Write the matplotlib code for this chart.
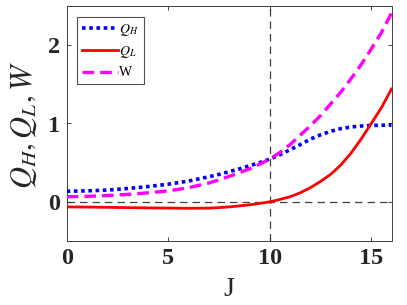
import matplotlib
matplotlib.use("Agg")
import matplotlib.pyplot as plt

J = [0, 1, 2, 3, 4, 5, 6, 7, 7.5, 8, 8.5, 9, 9.5, 10,
     10.5, 11, 11.5, 12, 12.5, 13, 13.5, 14, 14.5, 15, 15.5, 16]
Q_H = [0.135, 0.14, 0.15, 0.17, 0.195, 0.225, 0.265, 0.32, 0.35, 0.385, 0.42, 0.46, 0.5, 0.545,
       0.6, 0.665, 0.73, 0.8, 0.855, 0.9, 0.935, 0.955, 0.968, 0.975, 0.978, 0.98]
Q_L = [-0.065, -0.067, -0.07, -0.074, -0.077, -0.08, -0.082, -0.08, -0.074, -0.065, -0.052,
       -0.038, -0.02, 0.0,
       0.03, 0.065, 0.115, 0.18, 0.26, 0.35, 0.47, 0.62, 0.8, 1.0, 1.2, 1.44]
W = [0.065, 0.07, 0.08, 0.095, 0.115, 0.14, 0.18, 0.24, 0.28, 0.325, 0.37, 0.42, 0.48, 0.545,
     0.63, 0.73, 0.85, 0.97, 1.1, 1.25, 1.4, 1.57, 1.75, 1.95, 2.16, 2.41]
xticks = [0, 5, 10, 15]
yticks = [0, 1, 2]

plt.rcParams['mathtext.fontset'] = 'stix'
plt.rcParams['font.family'] = ['Liberation Serif', 'DejaVu Serif']

fig = plt.figure(figsize=(4.07, 3.05), dpi=100)
ax = fig.add_axes([66.7/407, 1 - 241/305, (391.5 - 66.7)/407, (241 - 6)/305])

ax.axvline(10, color='#404040', ls=(0, (6, 4)), lw=0.9, zorder=1)
ax.axhline(0, color='#404040', ls=(0, (6, 4)), lw=0.9, zorder=1)

ax.plot(J, Q_H, color='#0000ff', ls=(0, (1, 1)), lw=2.6, label=r'$Q_H$', zorder=3)
ax.plot(J, Q_L, color='#ff0000', ls='-', lw=2.0, label=r'$Q_L$', zorder=3)
ax.plot(J, W, color='#ff00ff', ls=(0, (3.5, 1.8)), lw=2.4, label='W', zorder=3)

ax.set_xlim(0, 16)
ax.set_ylim(-0.5, 2.5)
ax.set_xticks(xticks)
ax.set_yticks(yticks)
ax.tick_params(direction='in', top=True, right=True, length=3, width=0.6,
               labelsize=17.5, colors='#262626')
ax.tick_params(axis='x', pad=5)
ax.tick_params(axis='y', pad=4.5)
for lab in ax.get_xticklabels() + ax.get_yticklabels():
    lab.set_fontweight('bold')
    lab.set_color('#262626')
for s in ax.spines.values():
    s.set_linewidth(0.7)
    s.set_color('#404040')

ax.set_xlabel('J', fontsize=20, color='#262626')
ax.xaxis.set_label_coords(0.5, -0.155)
ax.set_ylabel(r'$Q_H, Q_L, W$', fontsize=22, color='#262626')
ax.yaxis.set_label_coords(-0.085, 0.494)

leg = ax.legend(loc='upper left', fontsize=10, frameon=True, fancybox=False,
                edgecolor='#262626', handlelength=2.6, handletextpad=0.1,
                borderpad=0.35, labelspacing=0.45, borderaxespad=0,
                bbox_to_anchor=(0.031, 0.953))
leg.get_frame().set_linewidth(0.8)

fig.savefig('out.png', dpi=100)
